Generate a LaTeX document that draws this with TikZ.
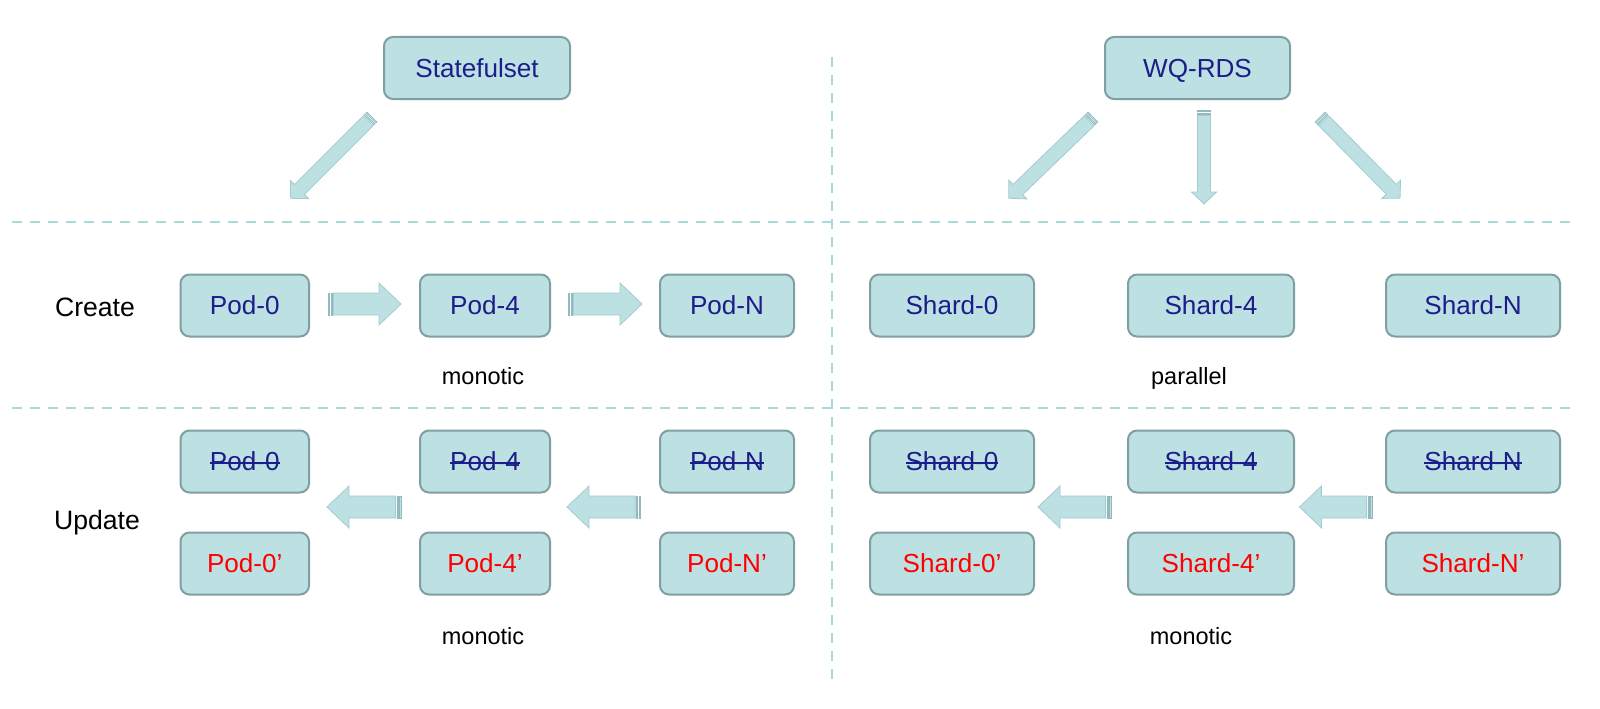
\documentclass[tikz,border=0pt]{standalone}
\usepackage{fontspec}
\setmainfont{Liberation Sans}
\newsavebox\strkbox
\newcommand\strk[1]{\sbox\strkbox{#1}\rlap{\rule[0.28em]{\wd\strkbox}{1.6pt}}\usebox\strkbox}
\definecolor{boxfill}{HTML}{BDE0E3}
\definecolor{boxline}{HTML}{809FA3}
\definecolor{navytext}{HTML}{1C1C8A}
\definecolor{redtext}{HTML}{FF0000}
\definecolor{dashcol}{HTML}{A9D9DA}
\definecolor{arrline}{HTML}{A2CCD0}
\definecolor{arrstripecol}{HTML}{94B9BC}
\tikzset{
  box/.style={draw=boxline, fill=boxfill, line width=2pt, rounded corners=9pt,
    minimum height=62pt, inner sep=0pt, text=navytext,
    font=\fontsize{26.1}{31}\selectfont, text height=18.7pt, text depth=0pt},
  newbox/.style={box, text=redtext},
  lbl/.style={inner sep=0pt, font=\fontsize{26.6}{31}\selectfont, text=black, text height=19pt, text depth=0pt},
  small/.style={inner sep=0pt, font=\fontsize{23.5}{28}\selectfont, text=black, text height=16.8pt, text depth=0pt},
  sep/.style={draw=dashcol, line width=2pt, dash pattern=on 10pt off 8pt},
  arrbody/.style={fill=boxfill, draw=arrline, line width=0.8pt, line join=miter},
  arrstripe/.style={fill=boxfill, draw=arrstripecol, line width=0.6pt},
}
% #1 start coordinate, #2 angle, #3 length, #4 shaft half width, #5 head half width, #6 head length
\newcommand\barrow[6]{%
  \begin{scope}[shift={(#1)}, rotate=#2]
    \filldraw[arrstripe] (0pt,-#4pt) rectangle (1.6pt,#4pt);
    \filldraw[arrstripe] (2.8pt,-#4pt) rectangle (4.2pt,#4pt);
    \filldraw[arrbody] (5.4pt,-#4pt) -- ({#3pt-#6pt},-#4pt) -- ({#3pt-#6pt},-#5pt)
      -- (#3pt,0pt) -- ({#3pt-#6pt},#5pt) -- ({#3pt-#6pt},#4pt) -- (5.4pt,#4pt) -- cycle;
  \end{scope}}
\begin{document}
\begin{tikzpicture}[x=1pt,y=-1pt]
\useasboundingbox (0,0) rectangle (1600,709);
\fill[white] (0,0) rectangle (1600,709);

% separators
\coordinate (vt) at (832,57);
\coordinate (vb) at (832,686);
\coordinate (hal) at (12,222);
\coordinate (har) at (1578,222);
\coordinate (hbl) at (12,408);
\coordinate (hbr) at (1578,408);
\draw[sep] (vt) -- (vb);
\draw[sep] (hal) -- (har);
\draw[sep] (hbl) -- (hbr);

% top boxes
\node[box, minimum width=186pt] (sts) at (477,68) {Statefulset};
\node[box, minimum width=185pt] (wq) at (1197.5,68) {WQ-RDS};

% create row
\node[box, minimum width=128.5pt] (cp0) at (244.75,305.5) {Pod-0};
\node[box, minimum width=130pt] (cp4) at (485,305.5) {Pod-4};
\node[box, minimum width=134pt] (cpn) at (727,305.5) {Pod-N};
\node[box, minimum width=164pt] (cs0) at (952,305.5) {Shard-0};
\node[box, minimum width=166pt] (cs4) at (1211,305.5) {Shard-4};
\node[box, minimum width=174pt] (csn) at (1473,305.5) {Shard-N};

% update row (old)
\node[box, minimum width=128.5pt] (up0) at (244.75,461.5) {\strk{Pod-0}};
\node[box, minimum width=130pt] (up4) at (485,461.5) {\strk{Pod-4}};
\node[box, minimum width=134pt] (upn) at (727,461.5) {\strk{Pod-N}};
\node[box, minimum width=164pt] (us0) at (952,461.5) {\strk{Shard-0}};
\node[box, minimum width=166pt] (us4) at (1211,461.5) {\strk{Shard-4}};
\node[box, minimum width=174pt] (usn) at (1473,461.5) {\strk{Shard-N}};

% update row (new)
\node[newbox, minimum width=128.5pt] (np0) at (244.75,563.5) {Pod-0’};
\node[newbox, minimum width=130pt] (np4) at (485,563.5) {Pod-4’};
\node[newbox, minimum width=134pt] (npn) at (727,563.5) {Pod-N’};
\node[newbox, minimum width=164pt] (ns0) at (952,563.5) {Shard-0’};
\node[newbox, minimum width=166pt] (ns4) at (1211,563.5) {Shard-4’};
\node[newbox, minimum width=174pt] (nsn) at (1473,563.5) {Shard-N’};

% labels
\node[lbl] (create) at (95,307) {Create};
\node[lbl] (update) at (97,520) {Update};
\node[small] (mono1) at (483,376) {monotic};
\node[small] (para) at (1189,376) {parallel};
\node[small] (mono2) at (483,636.5) {monotic};
\node[small] (mono3) at (1191,636.5) {monotic};

% block arrows
\coordinate (sa) at (372,117);
\coordinate (wa1) at (1093,117);
\coordinate (wa2) at (1204,110);
\coordinate (wa3) at (1320,117);
\barrow{sa}{225}{115}{7}{13}{12.5}
\barrow{wa1}{224}{117}{7}{13}{12.5}
\barrow{wa2}{270}{94}{6.5}{12.5}{12}
\barrow{wa3}{-45.4}{114}{7}{13}{12.5}

\coordinate (ca1) at (328,304);
\coordinate (ca2) at (568,304);
\barrow{ca1}{0}{73}{11}{21}{22}
\barrow{ca2}{0}{74}{11}{21}{22}

\coordinate (ua1) at (401,507);
\coordinate (ua2) at (640.5,507);
\coordinate (ua3) at (1111,507);
\coordinate (ua4) at (1372,507);
\barrow{ua1}{180}{74}{11}{21}{22}
\barrow{ua2}{180}{73.5}{11}{21}{22}
\barrow{ua3}{180}{73}{11}{21}{22}
\barrow{ua4}{180}{72.5}{11}{21}{22}
\end{tikzpicture}
\end{document}
